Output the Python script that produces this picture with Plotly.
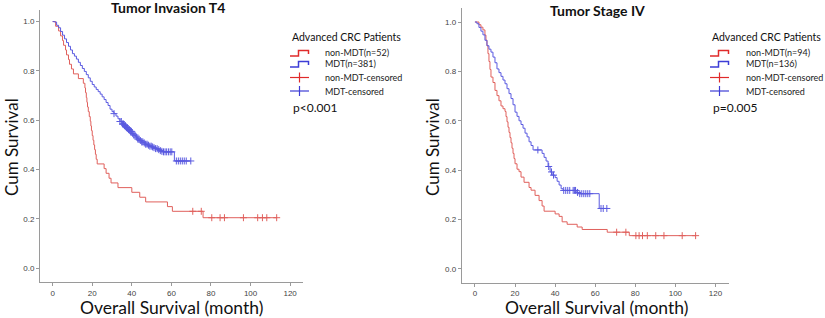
import numpy as np
import plotly.graph_objects as go

W, H = 825, 318

# ---------------- data: Tumor Invasion T4 ----------------
t4_nonmdt_t = [0, 1.5, 3, 4, 5, 5.5, 6.5, 7, 8, 8.5, 9.5, 10.5, 13, 15.5, 16.3, 16.6, 17, 17.3,
               17.6, 18, 18.5, 19, 19.3, 19.6, 20, 20.4, 20.8, 21.2, 21.6, 22, 22.5, 26, 27,
               28.5, 29.5, 33, 40, 44, 47, 58, 60.5, 76]
t4_nonmdt_s = [1.0, 0.981, 0.962, 0.942, 0.923, 0.904, 0.885, 0.865, 0.846, 0.827, 0.808, 0.788,
               0.769, 0.75, 0.731, 0.712, 0.692, 0.673, 0.654, 0.635, 0.615, 0.596, 0.577, 0.558,
               0.538, 0.519, 0.5, 0.481, 0.462, 0.442, 0.423, 0.404, 0.385, 0.365, 0.346, 0.327,
               0.308, 0.288, 0.269, 0.25, 0.231, 0.205]
t4_nonmdt_cens = [70.8, 75.1, 80.4, 84.6, 86.8, 96.4, 103.6, 106, 108.2, 113.2]

t4_mdt_t = [0, 1, 2, 3, 4, 5, 6, 7, 8, 9, 10, 11, 12, 13, 14, 15, 16, 17, 18, 19, 20, 21, 22, 23,
            24, 25, 26, 27, 28, 29, 30, 31, 32, 33, 34, 35, 36, 37, 38, 39, 40, 41, 42, 43, 44,
            45, 46, 47, 48, 49, 50, 51, 52, 53, 54, 55, 56, 61.5]
t4_mdt_s = [1.0, 0.998, 0.985, 0.975, 0.96, 0.945, 0.93, 0.915, 0.9, 0.885, 0.87, 0.86, 0.848,
            0.835, 0.822, 0.81, 0.798, 0.785, 0.772, 0.758, 0.745, 0.735, 0.725, 0.716, 0.706,
            0.695, 0.684, 0.672, 0.66, 0.645, 0.635, 0.627, 0.617, 0.606, 0.595, 0.585, 0.578,
            0.57, 0.562, 0.555, 0.547, 0.54, 0.532, 0.524, 0.518, 0.512, 0.508, 0.503, 0.499,
            0.495, 0.492, 0.489, 0.485, 0.481, 0.477, 0.474, 0.472, 0.435]
t4_mdt_cens = [31, 34, 34.7, 35.3, 35.8, 36.3, 36.8, 37.3, 37.8, 38.3, 38.8, 39.3, 39.8, 40.4,
               41, 41.6, 42.3, 43, 43.6, 44.3, 45, 45.6, 46.3, 47, 47.7, 48.4, 49.1, 49.8, 50.5,
               51.2, 52, 52.8, 53.6, 54.4, 55.2, 56, 56.8, 57.6, 58.5, 59.4, 60.2, 62.5, 63.5,
               64.5, 65.5, 66.5, 67.5, 69.8]

# ---------------- data: Tumor Stage IV ----------------
s4_nonmdt_t = [0, 2, 3, 4, 5, 5.5, 6, 6.5, 7, 7.5, 8, 9, 10, 11, 12, 13, 14, 15, 15.5, 16, 16.5,
               17, 17.5, 18, 18.5, 19, 19.5, 20, 21, 22, 23, 24.5, 27, 28, 30, 32, 33.5, 34.5,
               40, 42, 43.5, 46, 51, 53.5, 66, 77]
s4_nonmdt_s = [1.0, 0.989, 0.979, 0.968, 0.947, 0.926, 0.904, 0.872, 0.84, 0.808, 0.777, 0.755,
               0.723, 0.702, 0.681, 0.66, 0.649, 0.638, 0.617, 0.596, 0.574, 0.553, 0.532, 0.511,
               0.489, 0.468, 0.447, 0.426, 0.404, 0.394, 0.372, 0.351, 0.33, 0.319, 0.298, 0.277,
               0.255, 0.234, 0.223, 0.213, 0.191, 0.181, 0.17, 0.16, 0.149, 0.135]
s4_nonmdt_cens = [70.7, 75.3, 80.3, 81.9, 83.6, 86, 90.2, 94.3, 103.4, 110.1]

s4_mdt_t = [0, 1, 2, 3, 4, 5, 6, 7, 8, 9, 10, 11, 12, 13, 14, 15, 16, 17, 18, 19, 20, 21, 22,
            23, 24, 25, 26, 27, 28, 29, 33.5, 34.5, 35.5, 36.5, 37.5, 38.5, 40, 41, 42, 43, 44,
            50.5, 52, 62]
s4_mdt_s = [1.0, 0.993, 0.978, 0.963, 0.948, 0.926, 0.904, 0.89, 0.878, 0.858, 0.835, 0.81,
            0.795, 0.78, 0.765, 0.75, 0.73, 0.71, 0.69, 0.665, 0.635, 0.618, 0.6, 0.585, 0.57,
            0.55, 0.535, 0.515, 0.5, 0.482, 0.468, 0.452, 0.437, 0.415, 0.393, 0.38, 0.37,
            0.355, 0.34, 0.325, 0.318, 0.31, 0.305, 0.245]
s4_mdt_cens = [31.4, 36.8, 38.2, 39.2, 44.3, 45.3, 46.3, 47.3, 49, 49.6, 50.2, 51.2, 52.3,
               53.3, 54.3, 55.3, 56.3, 57.3, 62.9, 64, 65.8]

RED = "#e0605c"
BLUE = "#5a5ae0"
RED_ICON = "#e02a2a"
BLUE_ICON = "#3d3dd6"

fig = go.Figure()


def step_xy(t, s, end):
    return list(t) + [end], list(s) + [s[-1]]


def cens_y(t, s, c):
    idx = np.searchsorted(np.array(t), np.array(c), side="right") - 1
    return list(np.array(s)[idx])


panels = [
    ("x", "y", t4_nonmdt_t, t4_nonmdt_s, t4_nonmdt_cens, t4_mdt_t, t4_mdt_s, t4_mdt_cens),
    ("x2", "y2", s4_nonmdt_t, s4_nonmdt_s, s4_nonmdt_cens, s4_mdt_t, s4_mdt_s, s4_mdt_cens),
]
for xa, ya, rt, rs, rc, bt, bs, bc in panels:
    for t, s, c, col in ((rt, rs, rc, RED), (bt, bs, bc, BLUE)):
        end = max(max(c), t[-1])
        x, y = step_xy(t, s, end)
        fig.add_trace(go.Scatter(x=x, y=y, mode="lines", line=dict(color=col, width=1, shape="hv"),
                                 xaxis=xa, yaxis=ya, showlegend=False, hoverinfo="skip"))
        fig.add_trace(go.Scatter(x=c, y=cens_y(t, s, c), mode="markers",
                                 marker=dict(symbol="cross-thin", size=5, line=dict(color=col, width=1)),
                                 xaxis=xa, yaxis=ya, showlegend=False, hoverinfo="skip"))

ax_common = dict(showline=True, linecolor="#9a9a9a", linewidth=1, ticks="outside", ticklen=3,
                 tickcolor="#9a9a9a", tickfont=dict(family="Liberation Sans", size=8, color="#444"),
                 showgrid=False, zeroline=False)
xt = [0, 20, 40, 60, 80, 100, 120]
yt = [0, 0.2, 0.4, 0.6, 0.8, 1.0]
ytt = ["0.0", "0.2", "0.4", "0.6", "0.8", "1.0"]


def px(x):
    return x / W


def py(y):
    return 1 - y / H


fig.update_layout(
    width=W, height=H, margin=dict(l=0, r=0, t=0, b=0),
    paper_bgcolor="white", plot_bgcolor="white", showlegend=False,
    xaxis=dict(domain=[px(40), px(303)], range=[-6.4, 126.5], tickvals=xt, anchor="y", **ax_common),
    yaxis=dict(domain=[py(282), py(10)], range=[-0.0556, 1.047], tickvals=yt, ticktext=ytt,
               anchor="x", **ax_common),
    xaxis2=dict(domain=[px(461.7), px(729.3)], range=[-6.6, 126.9], tickvals=xt, anchor="y2",
                **ax_common),
    yaxis2=dict(domain=[py(282.7), py(8.3)], range=[-0.0555, 1.0555], tickvals=yt, ticktext=ytt,
                anchor="x2", **ax_common),
)

ann = []
shapes = []
FONT = "Lato"


def text(x, y, s, size, xanchor="left", bold=False, angle=0, color="#111"):
    ann.append(dict(x=px(x), y=py(y), xref="paper", yref="paper", text=("<b>%s</b>" % s) if bold else s,
                    showarrow=False, xanchor=xanchor, yanchor="middle", textangle=angle,
                    font=dict(family=FONT, size=size, color=color)))


# titles and axis titles
text(168, 8, "Tumor Invasion T4", 14, "center", bold=True)
text(597, 11, "Tumor Stage IV", 14, "center", bold=True)
text(11, 147, "Cum Survival", 17, "center", angle=-90)
text(432, 147, "Cum Survival", 17, "center", angle=-90)
text(171, 307, "Overall Survival (month)", 17.5, "center")
text(596, 307, "Overall Survival (month)", 17.5, "center")

legends = [
    (290, 323, ["non-MDT(n=52)", "MDT(n=381)", "non-MDT-censored", "MDT-censored"], "p<0.001"),
    (710, 744, ["non-MDT(n=94)", "MDT(n=136)", "non-MDT-censored", "MDT-censored"], "p=0.005"),
]
rows = [53, 64, 77.5, 91]
for x0, xt0, labels, pv in legends:
    text(x0, 36.5, "Advanced CRC Patients", 10.5)
    for i, (lab, yy) in enumerate(zip(labels, rows)):
        text(xt0, yy, lab, 9, color="#222")
        col = RED_ICON if i % 2 == 0 else BLUE_ICON
        if i < 2:
            path = "M %f %f L %f %f L %f %f L %f %f L %f %f" % (
                px(x0), py(yy + 3), px(x0 + 8.5), py(yy + 3), px(x0 + 8.5), py(yy - 2.5),
                px(x0 + 18.5), py(yy - 2.5), px(x0 + 18.5), py(yy + 1))
            shapes.append(dict(type="path", path=path, xref="paper", yref="paper",
                               line=dict(color=col, width=1.5)))
        else:
            shapes.append(dict(type="line", x0=px(x0), x1=px(x0 + 19), y0=py(yy), y1=py(yy),
                               xref="paper", yref="paper", line=dict(color=col, width=1.2)))
            shapes.append(dict(type="line", x0=px(x0 + 9.5), x1=px(x0 + 9.5), y0=py(yy - 5),
                               y1=py(yy + 5), xref="paper", yref="paper",
                               line=dict(color=col, width=1.2)))
    text(x0 + 1, 108, pv, 12)

fig.update_layout(annotations=ann, shapes=shapes)
fig.write_html("out.html", config={"displayModeBar": False},
               post_script="document.body.style.margin='0';document.body.style.overflow='hidden';")
